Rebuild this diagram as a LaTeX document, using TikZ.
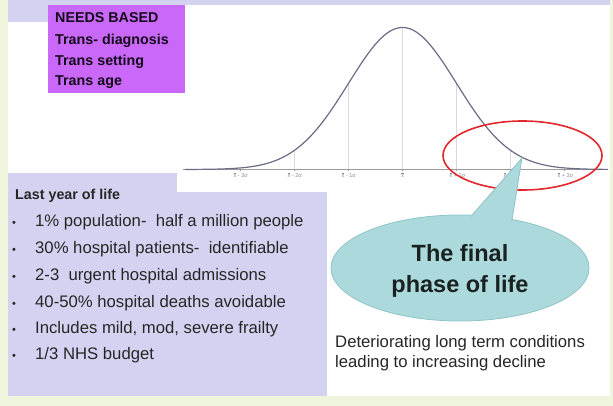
\documentclass[tikz,border=0pt]{standalone}
\usepackage{fontspec}
\setmainfont{Liberation Sans}
\usetikzlibrary{shapes.geometric}
\definecolor{bggreen}{HTML}{EEF5DC}
\definecolor{lav}{HTML}{D3D3F1}
\definecolor{magbox}{HTML}{CA68FA}
\definecolor{tealfill}{HTML}{ACD9DB}
\definecolor{tealedge}{HTML}{8EC4C8}
\definecolor{redring}{HTML}{E2282E}
\definecolor{curvecol}{HTML}{6C6C86}
\definecolor{txt}{HTML}{262626}
\definecolor{gridcol}{HTML}{DADADA}
\definecolor{axiscol}{HTML}{9A9A9A}
\definecolor{ticktxt}{HTML}{8A8A8A}
\begin{document}
\begin{tikzpicture}[x=1pt,y=-1pt,
  bodytext/.style={anchor=base west, inner sep=0pt, text=txt, font=\fontsize{16.7}{20}\selectfont},
  bulletdot/.style={anchor=base west, inner sep=0pt, text=txt, font=\fontsize{11}{13}\selectfont},
  boxtext/.style={anchor=base west, inner sep=0pt, text=black!90!magbox, font=\fontsize{14.3}{16}\bfseries\selectfont},
  finaltext/.style={anchor=base, inner sep=0pt, text=black!85!tealfill, font=\fontsize{23.5}{28}\bfseries\selectfont},
  ticklabel/.style={anchor=base west, inner sep=0pt, text=ticktxt, font=\fontsize{5.5}{6}\selectfont},
  tickbar/.style={draw=ticktxt, line width=0.35pt},
  gridline/.style={draw=gridcol, line width=0.6pt},
]
\useasboundingbox (0,0) rectangle (613,406);
% backgrounds
\fill[bggreen] (0,0) rectangle (613,406);
\fill[white] (8,0) rectangle (610,396);
\fill[lav] (8,0) rectangle (610,5);
\fill[lav] (8,0) rectangle (48,22);
\node[fill=lav, inner sep=0pt, minimum width=319, minimum height=223, anchor=north west] (panel) at (8,173) {};
\node[fill=white, inner sep=0pt, minimum width=433, minimum height=187, anchor=north west] (chart) at (177,5) {};

% magenta box
\node[fill=magbox, inner sep=0pt, minimum width=137, minimum height=88, anchor=north west] (needs) at (48,5) {};
\node[boxtext] (n1) at (55,23) {NEEDS BASED};
\node[boxtext] (n2) at (55,45) {Trans- diagnosis};
\node[boxtext] (n3) at (55,66) {Trans setting};
\node[boxtext] (n4) at (55,86) {Trans age};

% chart: grid lines
\draw[gridline] (348.5,169.5) -- (348.5,83.4);
\draw[gridline] (402.5,169.5) -- (402.5,27.5);
\draw[gridline] (456.5,169.5) -- (456.5,83.4);
\draw[gridline] (294.5,169.5) -- (294.5,150.3);
\draw[gridline] (510.5,169.5) -- (510.5,150.3);
% axis
\draw[axiscol, line width=0.8pt] (183,169.5) -- (608,169.5);
\foreach \k in {-3,...,3} {\draw[axiscol, line width=0.5pt] ({402.5+54*\k},169.5) -- ({402.5+54*\k},171.5);}
% curve
\draw[curvecol, line width=1.2pt] plot[domain=185:608, samples=160, smooth] (\x, {169.5 - 142*exp(-((\x-402.5)/54)^2/2)});
% tick labels (x with bar drawn as a line)
\foreach \cx/\t [count=\j] in {240.5/{x - 3σ},294.5/{x - 2σ},348.5/{x - 1σ},456.5/{x + 1σ},510.5/{x + 2σ},564.5/{x + 3σ}} {
  \node[ticklabel] (lab\j) at ({\cx-7},178) {\t};
  \draw[tickbar] ({\cx-6.9},173.6) -- ({\cx-4.4},173.6);
}
\node[ticklabel] (labmean) at (401.2,178) {x};
\draw[tickbar] (401.3,173.6) -- (403.8,173.6);

% red ring
\node[ellipse, draw=redring, line width=1.6pt, inner sep=0pt, minimum width=159, minimum height=69] (focus) at (522.5,155.5) {};

% callout
\coordinate (tip) at (522,158);
\node[ellipse, fill=tealfill, draw=tealedge, line width=0.8pt, inner sep=0pt, minimum width=258, minimum height=106] (phase) at (460,268) {};
\filldraw[fill=tealfill, draw=tealedge, line width=0.8pt, line join=miter] (466,222) -- (tip) -- (511,226) -- cycle;
\node[ellipse, fill=tealfill, inner sep=0pt, minimum width=255, minimum height=103] (phasecore) at (460,268) {};
\node[finaltext] (f1) at (460,261) {The final};
\node[finaltext] (f2) at (460,292) {phase of life};

% left panel text
\node[anchor=base west, inner sep=0pt, text=txt, font=\fontsize{14.3}{17}\bfseries\selectfont] (last) at (15,200) {Last year of life};
\foreach \yy/\t [count=\i] in {226/{1\% population-\ \ half a million people},253/{30\% hospital patients-\ \ identifiable},280/{2-3\ \ urgent hospital admissions},307/{40-50\% hospital deaths avoidable},333/{Includes mild, mod, severe frailty},359/{1/3 NHS budget}} {
  \node[bulletdot] (b\i) at (12,\yy) {•};
  \node[bodytext] (t\i) at (35,\yy) {\t};
}

% bottom right text
\node[bodytext] (d1) at (335,347) {Deteriorating long term conditions};
\node[bodytext] (d2) at (335,367) {leading to increasing decline};
\end{tikzpicture}
\end{document}
